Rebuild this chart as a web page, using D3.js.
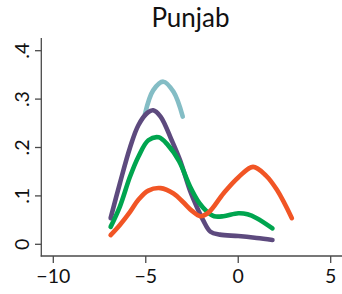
<!DOCTYPE html>
<html>
<head>
<meta charset="utf-8">
<script src="https://cdn.jsdelivr.net/npm/d3@7"></script>
<style>
  body { margin: 0; background: #fff; }
  svg { display: block; font-family: Lato, "Open Sans", sans-serif; }
</style>
</head>
<body>
<div id="plot"></div>
<script>
// density curves
const blueX = [-5.05, -4.6, -4.05, -3.5, -3.0];
const blueY = [0.268, 0.318, 0.336, 0.315, 0.264];

const purpleX = [-6.9, -6.4, -5.85, -5.4, -4.9, -4.6, -4.2, -3.6, -3.15, -2.6, -2.25, -1.9, -1.5, -1, 0, 1, 1.85];
const purpleY = [0.054, 0.126, 0.2, 0.246, 0.272, 0.277, 0.264, 0.215, 0.174, 0.11, 0.078, 0.05, 0.026, 0.02, 0.017, 0.013, 0.009];

const greenX = [-6.9, -6.4, -5.85, -5.4, -4.86, -4.3, -3.8, -3.2, -2.6, -2.1, -1.7, -1.3, -0.8, 0, 0.5, 1, 1.85];
const greenY = [0.036, 0.078, 0.14, 0.181, 0.215, 0.221, 0.205, 0.172, 0.119, 0.085, 0.068, 0.058, 0.058, 0.064, 0.062, 0.054, 0.033];

const orangeX = [-6.9, -6.4, -5.85, -5.4, -4.86, -4.2, -3.5, -3, -2.5, -2.05, -1.6, -0.8, 0, 0.8, 1.5, 2.1, 2.9];
const orangeY = [0.019, 0.04, 0.067, 0.092, 0.111, 0.116, 0.105, 0.088, 0.069, 0.058, 0.066, 0.105, 0.138, 0.16, 0.142, 0.112, 0.054];

const xTicks = [-10, -5, 0, 5];
const yTicks = [0, 0.1, 0.2, 0.3, 0.4];
const yTickLabels = ["0", ".1", ".2", ".3", ".4"];

const series = [
  { xs: blueX, ys: blueY, color: "#84bdc5" },
  { xs: purpleX, ys: purpleY, color: "#5d4a7e" },
  { xs: greenX, ys: greenY, color: "#00a54f" },
  { xs: orangeX, ys: orangeY, color: "#f15525" }
];

const w = 342;
const h = 294;

const svg = d3.select("div#plot")
    .append("svg")
    .attr("width", w)
    .attr("height", h);

const xScale = d3.scaleLinear().domain([-10, 5]).range([53.3, 330.7]);
const yScale = d3.scaleLinear().domain([0, 0.4]).range([244.3, 50.7]);

const axisColor = "#4a4a4a";

// title
svg.append("text")
    .attr("x", 190.5)
    .attr("y", 26.5)
    .attr("text-anchor", "middle")
    .attr("font-size", 26)
    .attr("fill", "#111")
    .text("Punjab");

// axis lines
svg.append("line")
    .attr("x1", 41.3).attr("x2", 41.3)
    .attr("y1", 38).attr("y2", 256.5)
    .attr("stroke", axisColor).attr("stroke-width", 1.3);
svg.append("line")
    .attr("x1", 40.7).attr("x2", 342)
    .attr("y1", 256).attr("y2", 256)
    .attr("stroke", axisColor).attr("stroke-width", 1.3);

// y ticks + rotated labels
yTicks.forEach((t, i) => {
  svg.append("line")
      .attr("x1", 35).attr("x2", 41.3)
      .attr("y1", yScale(t)).attr("y2", yScale(t))
      .attr("stroke", axisColor).attr("stroke-width", 1.3);
  svg.append("text")
      .attr("transform", `translate(29, ${yScale(t)}) rotate(-90)`)
      .attr("text-anchor", "middle")
      .attr("font-size", 19.5)
      .attr("fill", "#111")
      .text(yTickLabels[i]);
});

// x ticks + labels
xTicks.forEach(t => {
  svg.append("line")
      .attr("x1", xScale(t)).attr("x2", xScale(t))
      .attr("y1", 256).attr("y2", 263)
      .attr("stroke", axisColor).attr("stroke-width", 1.3);
  svg.append("text")
      .attr("x", xScale(t))
      .attr("y", 283)
      .attr("text-anchor", "middle")
      .attr("font-size", 19.5)
      .attr("fill", "#111")
      .text(t < 0 ? "\u2212" + Math.abs(t) : t);
});

const line = d3.line()
    .x(d => xScale(d[0]))
    .y(d => yScale(d[1]))
    .curve(d3.curveCatmullRom.alpha(0.5));

series.forEach(s => {
  svg.append("path")
      .datum(s.xs.map((x, i) => [x, s.ys[i]]))
      .attr("d", line)
      .attr("fill", "none")
      .attr("stroke", s.color)
      .attr("stroke-width", 4.6)
      .attr("stroke-linecap", "round")
      .attr("stroke-linejoin", "round");
});
</script>
</body>
</html>
